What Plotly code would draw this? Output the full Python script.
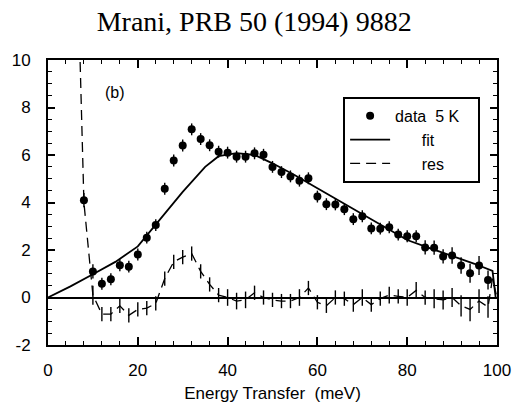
import plotly.graph_objects as go

# ---- data ----
data_x = [8, 10, 12, 14, 16, 18, 20, 22, 24, 26, 28, 30, 32, 34, 36, 38, 40, 42, 44, 46,
          48, 50, 52, 54, 56, 58, 60, 62, 64, 66, 68, 70, 72, 74, 76, 78, 80, 82, 84, 86,
          88, 90, 92, 94, 96, 98]
data_y = [4.1, 1.1, 0.58, 0.77, 1.36, 1.3, 1.81, 2.52, 3.05, 4.58, 5.77, 6.4, 7.08, 6.67,
          6.41, 6.14, 6.1, 5.93, 5.93, 6.07, 6.01, 5.5, 5.28, 5.1, 4.92, 5.02, 4.25, 3.93,
          3.92, 3.72, 3.3, 3.42, 2.91, 2.9, 2.96, 2.65, 2.58, 2.58, 2.11, 2.1, 1.73, 1.77,
          1.35, 1.02, 1.35, 0.74]
data_err = [0.3, 0.3, 0.25, 0.25, 0.25, 0.25, 0.25, 0.25, 0.25, 0.25, 0.25, 0.25, 0.25, 0.25,
            0.25, 0.25, 0.25, 0.25, 0.25, 0.25, 0.25, 0.25, 0.25, 0.25, 0.25, 0.25, 0.25, 0.25,
            0.25, 0.25, 0.25, 0.25, 0.25, 0.25, 0.25, 0.25, 0.25, 0.25, 0.3, 0.3, 0.3, 0.35,
            0.35, 0.4, 0.4, 0.4]

fit_x = [0, 5, 10, 15, 20, 25, 30, 35, 38, 42, 46, 50, 55, 60, 65, 70, 75, 80, 85, 90, 95, 99, 99.7]
fit_y = [0, 0.47, 0.98, 1.5, 2.15, 3.3, 4.45, 5.5, 5.95, 6.08, 6.0, 5.65, 5.15, 4.6, 4.05,
         3.5, 2.95, 2.42, 2.08, 1.75, 1.42, 1.12, 0.0]

res_x = [6, 8, 10, 12, 14, 16, 18, 20, 22, 24, 26, 28, 30, 32, 34, 36, 38, 40, 42, 44, 46,
         48, 50, 52, 54, 56, 58, 60, 62, 64, 66, 68, 70, 72, 74, 76, 78, 80, 82, 84, 86, 88,
         90, 92, 94, 96, 98, 99, 100]
res_y = [18, 4.0, 0.1, -0.7, -0.7, -0.35, -0.75, -0.5, -0.45, -0.25, 0.8, 1.5, 1.7, 1.85,
         1.1, 0.55, 0.1, 0.0, -0.15, -0.1, 0.2, 0.0, -0.1, -0.15, -0.15, 0.0, 0.4, -0.2,
         -0.35, 0.0, -0.05, -0.3, 0.0, -0.3, -0.05, 0.1, 0.05, 0.0, 0.3, 0.0, -0.05, -0.1,
         0.0, -0.35, -0.5, -0.15, -0.4, 0.8, 0.0]
res_err = [0, 0, 0.4, 0.3, 0.3, 0.3, 0.3, 0.3, 0.3, 0.3, 0.3, 0.3, 0.3, 0.3, 0.3, 0.3, 0.3,
           0.35, 0.35, 0.35, 0.3, 0.3, 0.3, 0.3, 0.3, 0.35, 0.3, 0.3, 0.3, 0.3, 0.3, 0.3,
           0.35, 0.3, 0.3, 0.35, 0.3, 0.35, 0.35, 0.3, 0.4, 0.4, 0.4, 0.45, 0.5, 0.5, 0.45,
           0, 0]

x_ticks = [0, 20, 40, 60, 80, 100]
y_ticks = [-2, 0, 2, 4, 6, 8, 10]

SANS = "Liberation Sans, Arial, sans-serif"
SERIF = "Liberation Serif, Times New Roman, serif"
NB = "\u00a0"

fig = go.Figure()

fig.add_trace(go.Scatter(
    x=res_x, y=res_y, mode="lines", name=NB * 6 + "res" + NB * 6,
    legendgroup="c",
    line=dict(color="black", width=1.3, dash="10px,6px"),
    error_y=dict(type="data", array=res_err, visible=True, color="black", thickness=1.4, width=0),
))
fig.add_trace(go.Scatter(
    x=fit_x, y=fit_y, mode="lines", name=NB * 6 + "fit",
    legendgroup="b",
    line=dict(color="black", width=1.8),
))
fig.add_trace(go.Scatter(
    x=data_x, y=data_y, mode="markers", name="data" + NB * 2 + "5" + NB + "K" + NB * 3,
    legendgroup="a",
    marker=dict(color="black", size=8, symbol="circle"),
    error_y=dict(type="data", array=data_err, visible=True, color="black", thickness=1.4, width=0),
))

fig.add_annotation(x=15, y=8.65, xref="x", yref="y", text="(b)", showarrow=False,
                   font=dict(family=SANS, size=16, color="black"))

fig.update_layout(
    width=523, height=412,
    margin=dict(l=43, r=19, t=60, b=58),
    paper_bgcolor="white", plot_bgcolor="white",
    title=dict(text="Mrani, PRB 50 (1994) 9882", x=0.486, xref="container", xanchor="center",
               y=1 - 21 / 412, yref="container", yanchor="middle",
               font=dict(family=SERIF, size=28, color="black")),
    showlegend=True,
    legend=dict(x=(346 - 43) / 461, y=1 - (98 - 60) / 294, xanchor="left", yanchor="top",
                bgcolor="white", bordercolor="black", borderwidth=2,
                font=dict(family=SANS, size=16, color="black"),
                traceorder="reversed", tracegroupgap=11, itemwidth=40),
    xaxis=dict(range=[0, 100], tickvals=x_ticks, ticktext=[str(v) for v in x_ticks],
               showgrid=False, zeroline=False,
               showline=True, linecolor="black", linewidth=2, mirror="ticks",
               ticks="inside", ticklen=8, tickwidth=1.5, tickcolor="black",
               minor=dict(dtick=4, tick0=0, ticks="inside", ticklen=4, tickwidth=1.2, tickcolor="black"),
               tickfont=dict(family=SANS, size=17, color="black"),
               ticklabelstandoff=9,
               title=dict(text="Energy Transfer" + NB * 2 + "(meV)", standoff=8,
                          font=dict(family=SANS, size=17, color="black"))),
    yaxis=dict(range=[-2, 10], tickvals=y_ticks, ticktext=[str(v) for v in y_ticks],
               showgrid=False, zeroline=True, zerolinecolor="black", zerolinewidth=1.5,
               showline=True, linecolor="black", linewidth=2, mirror="ticks",
               ticks="inside", ticklen=7, tickwidth=1.5, tickcolor="black",
               minor=dict(dtick=0.5, tick0=0, ticks="inside", ticklen=4, tickwidth=1.2, tickcolor="black"),
               tickfont=dict(family=SANS, size=17, color="black"),
               ticklabelstandoff=12),
)

fig.write_html("out.html")
